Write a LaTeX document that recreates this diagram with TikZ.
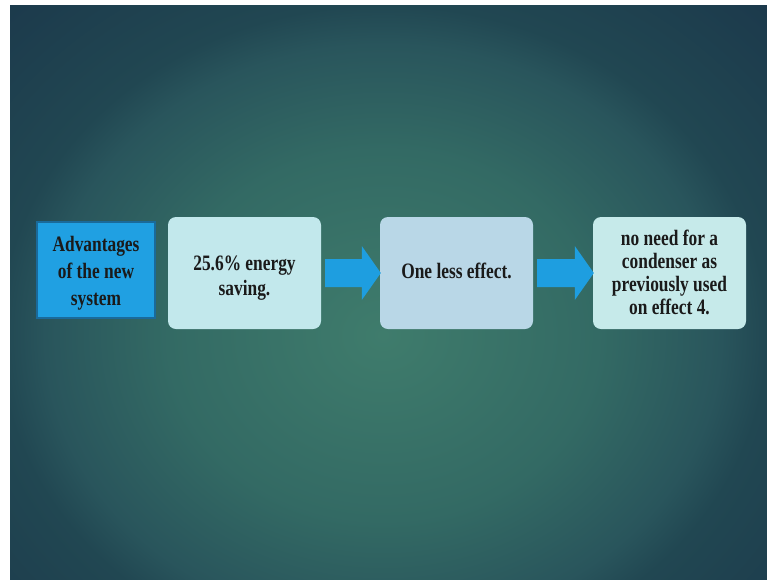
\documentclass[tikz,border=0pt]{standalone}
\usepackage{fontspec}
\setmainfont{Liberation Serif}
\usepackage{graphicx}
\usetikzlibrary{calc}
\definecolor{bgin}{HTML}{3F7C6C}
\definecolor{bgmid}{HTML}{336A64}
\definecolor{bgmidb}{HTML}{29555C}
\definecolor{bgout}{HTML}{214752}
\definecolor{bgcorner}{HTML}{1C3A4C}
\definecolor{blueA}{HTML}{20A0E2}
\definecolor{blueAline}{HTML}{1A6A9A}
\definecolor{boxB}{HTML}{C2E8EC}
\definecolor{boxC}{HTML}{B9D7E7}
\definecolor{boxD}{HTML}{C6EAEA}
\definecolor{arrowblue}{HTML}{1E9EE0}
\definecolor{txt}{HTML}{1A1A1A}
\pgfdeclareradialshading{bgshade}{\pgfpoint{0bp}{0bp}}{color(0bp)=(bgin); color(14bp)=(bgmid); color(22bp)=(bgmidb); color(25bp)=(bgout); color(35bp)=(bgcorner); color(50bp)=(bgcorner)}
\newcommand{\boxtext}[3]{\raisebox{-#3pt}[\height][\depth]{\scalebox{0.79}[1]{\fontsize{22}{#1}\selectfont\bfseries\color{txt}\begin{tabular}{@{}c@{}}#2\end{tabular}}}}
\tikzset{
  advbox/.style={draw=blueAline, line width=2.5pt, fill=blueA, minimum width=118pt, minimum height=96pt, inner sep=0pt},
  roundbox/.style={fill=#1, rounded corners=8pt, minimum width=153pt, minimum height=112pt, inner sep=0pt},
  fatarrow/.style={fill=arrowblue}
}
\newcommand{\fatarrowpath}[2]{%
  \fill[fatarrow] let \p1=(#1), \p2=(#2) in
    ({\x1+4pt},{\y1+14pt}) -- ({\x2-18pt},{\y1+14pt}) -- ({\x2-18pt},{\y1+27pt}) --
    ({\x2+1pt},{\y1}) -- ({\x2-18pt},{\y1-27pt}) -- ({\x2-18pt},{\y1-14pt}) --
    ({\x1+4pt},{\y1-14pt}) -- cycle;}
\begin{document}
\begin{tikzpicture}[x=1pt,y=-1pt]
\useasboundingbox (0,0) rectangle (767,579);
\fill[white] (0,0) rectangle (767,579);
\begin{scope}
\clip (10,5) rectangle (770,585);
\fill[bgcorner] (10,5) rectangle (770,585);
\shade[shading=bgshade] (-1,5) rectangle (767,665);
\end{scope}

\node[advbox] (b1) at (96,270) {\boxtext{27}{Advantages\\of the new\\system}{3}};
\node[roundbox=boxB] (b2) at (244.5,273) {\boxtext{24.5}{25.6\% energy\\saving.}{5}};
\node[roundbox=boxC] (b3) at (456.5,273) {\boxtext{22.5}{One less effect.}{1}};
\node[roundbox=boxD] (b4) at (669.5,273) {\boxtext{23}{no need for a\\condenser as\\previously used\\on effect 4.}{2}};

\fatarrowpath{b2.east}{b3.west}
\fatarrowpath{b3.east}{b4.west}
\end{tikzpicture}
\end{document}
